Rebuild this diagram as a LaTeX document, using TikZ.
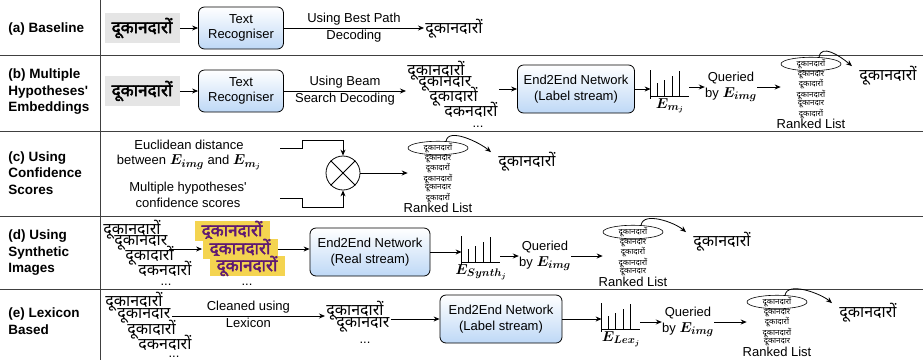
\documentclass[tikz,border=0pt]{standalone}
\usepackage{amsmath,bm}
\usepackage{fontspec}
\setmainfont{Liberation Sans}
\newfontfamily\dev[Script=Devanagari]{Noto Sans}
\newfontfamily\devb[Script=Devanagari,FakeBold=2.5]{Noto Sans}
\usetikzlibrary{positioning,shapes.geometric,arrows.meta,calc}

\definecolor{boxblue}{RGB}{190,216,246}
\definecolor{synyellow}{RGB}{244,212,80}
\definecolor{synpurple}{RGB}{95,25,115}

\newcommand{\wA}{दूकानदारों}
\newcommand{\wB}{दूकानदार}
\newcommand{\wC}{दूकादारों}
\newcommand{\wD}{दकनदारों}
\newcommand{\Emb}[1]{{\fontsize{15}{15}\selectfont$\bm{E_{#1}}$}}
% histogram bars inside an empty node
\newcommand{\bars}[1]{%
  \draw (#1.north west) -- ([yshift=-3pt]#1.south west);
  \draw (#1.south west) -- (#1.south east);
  \foreach \f/\h in {0.17/13,0.36/16,0.55/20,0.74/25}
    \draw ($(#1.south west)!\f!(#1.south east)$) -- ++(0,-\h);
}

\begin{document}
\begin{tikzpicture}[x=1pt, y=-1pt, line width=0.8pt,
  rowlabel/.style={font=\fontsize{13.5}{16.5}\selectfont\bfseries, align=left, anchor=west, inner sep=0pt},
  lbl/.style={font=\fontsize{13}{15.5}\selectfont, align=center, inner sep=0pt},
  recbox/.style={draw, rounded corners=6pt, top color=white, bottom color=boxblue, align=center,
    font=\fontsize{13}{15.5}\selectfont, minimum width=85pt, minimum height=42pt, inner sep=2pt},
  netbox/.style={recbox, minimum width=117pt, minimum height=48pt},
  arr/.style={-{Stealth[length=6pt,width=5pt]}},
  rowline/.style={line width=1pt, black!75},
  hyp/.style={font=\dev\fontsize{16}{16}\selectfont, anchor=west, inner xsep=1pt, inner ysep=0pt},
  wordimg/.style={fill=black!10, font=\devb\fontsize{17}{17}\selectfont, minimum width=75pt, minimum height=30pt, inner sep=0pt},
  syn/.style={fill=synyellow, text=synpurple, font=\devb\fontsize{17}{17}\selectfont, minimum width=75pt, minimum height=20pt, inner sep=0pt},
  histo/.style={minimum width=38pt, minimum height=25pt, inner sep=0pt},
  rankhead/.style={ellipse, draw, line width=0.6pt, minimum width=60pt, minimum height=9pt, inner sep=0pt, font=\dev\fontsize{8}{7}\selectfont},
  rankitems/.style={align=center, inner sep=0pt, font=\dev\fontsize{8}{5.9}\selectfont},
]
\useasboundingbox (0,0) rectangle (923,360);

% table lines
\draw[rowline] (100,0) -- (100,360);
\draw[rowline] (0,55) -- (923,55);
\draw[rowline] (0,131) -- (923,131);
\draw[rowline] (0,216) -- (923,216);
\draw[rowline] (0,289) -- (923,289);

% (a)
\node[rowlabel] (la) at (8,29) {(a) Baseline};
\node[wordimg] (img_a) at (142,28) {\wA};
\node[recbox] (rec_a) at (241,28) {Text\\Recogniser};
\node[hyp] (out_a) at (424,29) {\wA};
\draw[arr] (img_a) -- (rec_a);
\draw[arr] (rec_a) -- node[lbl, above=2pt] {Using Best Path} node[lbl, below=2pt] {Decoding} (rec_a -| out_a.west);

% (b)
\node[rowlabel] (lb) at (8,92) {(b) Multiple\\Hypotheses\textquotesingle\\Embeddings};
\node[wordimg] (img_b) at (142,91) {\wA};
\node[recbox] (rec_b) at (241,91) {Text\\Recogniser};
\node[hyp] (b1) at (406,71) {\wA};
\node[hyp] (b2) at (417,84) {\wB};
\node[hyp] (b3) at (428,97) {\wC};
\node[hyp] (b4) at (443,110) {\wD};
\node[lbl] (b5) at (478,127) {...};
\draw[arr] (img_b) -- (rec_b);
\draw[arr] (rec_b) -- node[lbl, above=2pt] {Using Beam} node[lbl, below=2pt] {Search Decoding} (rec_b -| b1.west);
\node[netbox] (net_b) at (576,89) {End2End Network\\(Label stream)};
\draw[arr] (b4.east |- net_b.west) -- (net_b);
\node[histo] (h_b) at (670,83) {};
\bars{h_b}
\draw[arr] (net_b) -- (net_b -| h_b.west);
\node[lbl, below=2pt of h_b] (e_b) {\Emb{m_j}};
\node[lbl] (q_b) at (731,87) {Queried\\by \Emb{img}};
\draw[arr] (q_b.west -| h_b.east) -- (q_b);
\node[rankhead] (r_b) at (811,64) {\wA};
\node[rankitems, below=0pt of r_b] (ri_b) {\wB\\\wC\\\wA\\\wB\\\wC};
\node[lbl, below=0pt of ri_b] (rl_b) {Ranked List};
\draw[arr] (q_b) -- (q_b -| r_b.west);
\node[hyp] (out_b) at (858,76) {\wA};
\draw[arr] (r_b.40) .. controls +(2,-14) and +(-12,-10) .. ([xshift=-6pt]out_b.north west);

% (c)
\node[rowlabel] (lc) at (8,173) {(c) Using\\Confidence\\Scores};
\node[lbl] (eu) at (189,155) {Euclidean distance\\between \Emb{img} and \Emb{m_j}};
\node[lbl] (mh) at (188,195) {Multiple hypotheses\textquotesingle\\confidence scores};
\node[circle, draw, minimum size=34pt, inner sep=0pt] (mix) at (343,173) {};
\draw (mix.north west) -- (mix.south east) (mix.north east) -- (mix.south west);
\coordinate (in1) at (280,148);
\coordinate (in2) at (280,198);
\draw[arr] (in1) -- ++(22,0) -- ++(0,-8) -| (mix.north);
\draw[arr] (in2) -- ++(22,0) -- ++(0,9) -| (mix.south);
\node[rankhead] (r_c) at (438,148) {\wA};
\node[rankitems, below=0pt of r_c] (ri_c) {\wB\\\wC\\\wA\\\wB\\\wC};
\node[lbl, below=0pt of ri_c] (rl_c) {Ranked List};
\draw[arr] (mix) -- (mix -| r_c.west);
\node[hyp] (out_c) at (497,162) {\wA};
\draw[arr] (r_c.40) .. controls +(2,-14) and +(-12,-10) .. ([xshift=-6pt]out_c.north west);

% (d)
\node[rowlabel] (ld) at (8,253) {(d) Using\\Synthetic\\Images};
\node[hyp] (d1) at (102,230) {\wA};
\node[hyp] (d2) at (113,243) {\wB};
\node[hyp] (d3) at (124,256) {\wC};
\node[hyp] (d4) at (137,269) {\wD};
\node[lbl] (d5) at (166,285) {...};
\node[syn] (s1) at (232,231) {\wA};
\node[syn] (s2) at (240,249) {\wA};
\node[syn] (s3) at (247,266) {\wA};
\node[lbl] (s4) at (247,285) {...};
\draw[arr] (d2.east |- s2.west) -- (s2);
\node[netbox, minimum width=120pt] (net_d) at (370,252) {End2End Network\\(Real stream)};
\draw[arr] (s2) -- (s2 -| net_d.west);
\node[histo] (h_d) at (481,249) {};
\bars{h_d}
\draw[arr] (net_d) -- (net_d -| h_d.west);
\node[lbl, below=2pt of h_d] (e_d) {\Emb{Synth_j}};
\node[lbl] (q_d) at (545,256) {Queried\\by \Emb{img}};
\draw[arr] (q_d.west -| h_d.east) -- (q_d);
\node[rankhead] (r_d) at (633,232) {\wA};
\node[rankitems, below=0pt of r_d] (ri_d) {\wB\\\wC\\\wA\\\wB};
\node[lbl, below=0pt of ri_d] (rl_d) {Ranked List};
\draw[arr] (q_d) -- (q_d -| r_d.west);
\node[hyp] (out_d) at (692,242) {\wA};
\draw[arr] (r_d.40) .. controls +(2,-14) and +(-12,-10) .. ([xshift=-6pt]out_d.north west);

% (e)
\node[rowlabel] (le) at (8,321) {(e) Lexicon\\Based};
\node[hyp] (e1) at (104,302) {\wA};
\node[hyp] (e2) at (116,316) {\wB};
\node[hyp] (e3) at (126,330) {\wC};
\node[hyp] (e4) at (137,343) {\wD};
\node[lbl] (e5) at (174,357) {...};
\node[hyp] (f1) at (325,311) {\wA};
\node[hyp] (f2) at (335,325) {\wB};
\node[lbl] (f3) at (365,343) {...};
\draw[arr] (e2.east) -- node[lbl, above=2pt] {Cleaned using} node[lbl, below=2pt] {Lexicon} (e2.east -| f1.west);
\node[netbox, minimum width=122pt] (net_e) at (501,319) {End2End Network\\(Label stream)};
\draw[arr] (f2.east |- net_e.west) -- (net_e);
\node[histo] (h_e) at (621,316) {};
\bars{h_e}
\draw[arr] (net_e) -- (net_e -| h_e.west);
\node[lbl, below=2pt of h_e] (e_e) {\Emb{Lex_j}};
\node[lbl] (q_e) at (688,322) {Queried\\by \Emb{img}};
\draw[arr] (q_e.west -| h_e.east) -- (q_e);
\node[rankhead] (r_e) at (777,302) {\wA};
\node[rankitems, below=0pt of r_e] (ri_e) {\wB\\\wC\\\wA\\\wB};
\node[lbl, below=0pt of ri_e] (rl_e) {Ranked List};
\draw[arr] (q_e) -- (q_e -| r_e.west);
\node[hyp] (out_e) at (838,313) {\wA};
\draw[arr] (r_e.40) .. controls +(2,-14) and +(-12,-10) .. ([xshift=-6pt]out_e.north west);
\end{tikzpicture}
\end{document}
